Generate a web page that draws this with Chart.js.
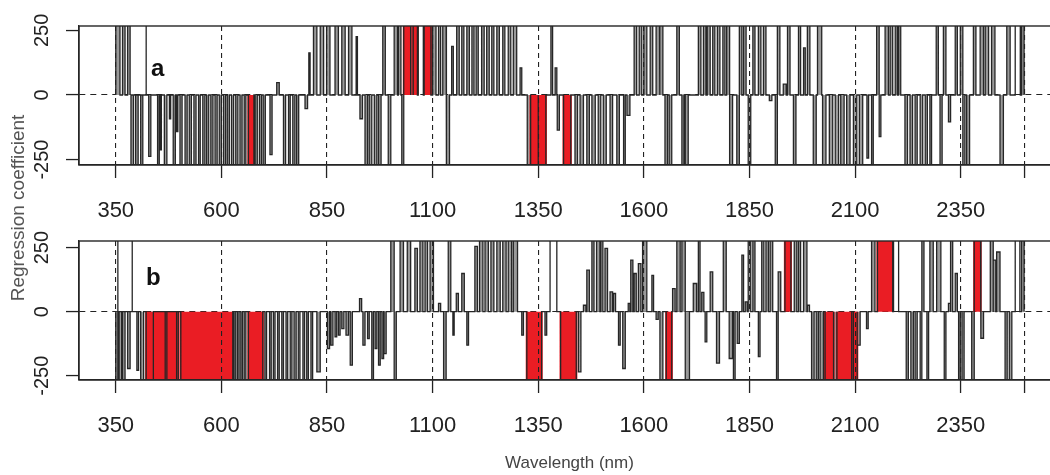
<!DOCTYPE html>
<html>
<head>
<meta charset="utf-8">
<script src="https://cdn.jsdelivr.net/npm/chart.js@4.4.1/dist/chart.umd.min.js"></script>
<style>
  html, body { margin: 0; padding: 0; background: #fff; overflow: hidden; }
  body { width: 1050px; height: 475px; position: relative; }
  canvas { position: absolute; left: 0; }
  #chartA { top: 0; }
  #chartB { top: 214px; }
  .panel { position: absolute; font: bold 24px "Liberation Sans", Arial, sans-serif; line-height: 24px; color: #111; }
  #ytitle { position: absolute; left: -131px; top: 196px; width: 300px; height: 24px; line-height: 24px;
            text-align: center; transform: rotate(-90deg); color: #555;
            font: 19px "Liberation Sans", Arial, sans-serif; }
</style>
</head>
<body>
<canvas id="chartA" width="1065" height="230"></canvas>
<canvas id="chartB" width="1065" height="261"></canvas>
<div class="panel" style="left:151px;top:56px">a</div>
<div class="panel" style="left:146px;top:265px">b</div>
<div id="ytitle">Regression coefficient</div>
<script>
// tick positions (nm) and labels
const xTickVals = [350, 600, 850, 1100, 1350, 1600, 1850, 2100, 2350, 2500];
const xTickLabels = ["350", "600", "850", "1100", "1350", "1600", "1850", "2100", "2350", ""];
const yTickVals = [-250, 0, 250];
const yTickLabels = ["-250", "0", "250"];
const xTitle = "Wavelength (nm)";

// panel a: coefficient bars [from nm, to nm, coefficient]; +-300 = off the scale
const barsA = [
  [350, 360, 300], [366, 372, 300], [378, 384, 300], [384, 422, 300],
  [386, 392, -300], [397, 403, -300], [409, 414, -300], [428, 433, -238], [449, 453, -300], [455, 458, -212],
  [465, 471, -300], [477, 480, -92], [486, 491, -300], [494, 497, -142], [502, 507, -300], [514, 519, -300],
  [524, 529, -300], [535, 540, -300], [546, 550, -300], [556, 561, -300], [565, 570, -300], [575, 580, -300],
  [585, 590, -300], [595, 600, -300], [605, 610, -300], [614, 619, -300], [624, 629, -300], [634, 639, -300],
  [644, 649, -300], [654, 658, -300], [680, 685, -300], [690, 695, -300], [699, 704, -300], [715, 720, -231],
  [731, 737, 48], [747, 752, -300], [759, 763, -300], [769, 774, -300], [778, 783, -300], [798, 804, -53],
  [807, 810, 163], [818, 826, 300], [834, 842, 300], [849, 857, 300], [869, 877, 300], [885, 893, 300],
  [901, 909, 300], [919, 922, 226], [928, 934, -92], [940, 946, -300], [950, 956, -300], [962, 968, -300],
  [972, 978, -300], [982, 988, 300], [995, 1001, -300], [1009, 1017, 300], [1019, 1025, 300], [1027, 1031, -300],
  [1048, 1054, 300], [1066, 1078, 300], [1100, 1108, 300], [1114, 1119, 300], [1124, 1132, 300], [1133, 1140, -300],
  [1145, 1149, 188], [1157, 1163, 300], [1169, 1174, 300], [1181, 1187, 300], [1193, 1198, 300], [1203, 1208, 300],
  [1216, 1222, 300], [1228, 1234, 300], [1240, 1245, 300], [1252, 1258, 300], [1266, 1271, 300], [1279, 1285, 300],
  [1291, 1299, 300], [1307, 1311, 105], [1324, 1332, -300], [1380, 1384, 300], [1390, 1394, 105], [1395, 1400, -136],
  [1437, 1443, -300], [1449, 1457, -300], [1465, 1471, -300], [1477, 1485, -300], [1492, 1498, -300], [1504, 1511, -300],
  [1520, 1526, -300], [1536, 1542, -300], [1552, 1556, -300], [1560, 1567, -79], [1577, 1583, 300], [1589, 1595, 300],
  [1600, 1607, 300], [1615, 1621, 300], [1629, 1637, 300], [1638, 1645, 300], [1650, 1656, -300], [1660, 1666, -300],
  [1678, 1684, 300], [1690, 1695, -300], [1698, 1705, -300], [1729, 1735, 300], [1741, 1747, 300], [1750, 1757, 300],
  [1763, 1768, 300], [1774, 1780, 300], [1787, 1792, 300], [1796, 1803, 300], [1803, 1810, -300], [1820, 1826, -300],
  [1826, 1832, 300], [1836, 1842, 300], [1847, 1853, -300], [1858, 1863, 300], [1871, 1877, 300], [1883, 1889, 300],
  [1897, 1903, -22], [1911, 1916, -300], [1916, 1922, 300], [1930, 1937, 42], [1940, 1946, 300], [1954, 1960, -300],
  [1966, 1971, 300], [1978, 1982, 182], [1987, 1993, 300], [2001, 2008, -300], [2011, 2021, 300], [2023, 2031, -300],
  [2039, 2047, -300], [2053, 2061, -300], [2066, 2074, -300], [2080, 2088, -300], [2096, 2104, -300], [2110, 2118, -300],
  [2128, 2132, -244], [2139, 2143, -300], [2151, 2157, 300], [2157, 2161, -161], [2171, 2179, 300], [2183, 2189, 300],
  [2195, 2200, 300], [2203, 2208, 300], [2218, 2224, -300], [2230, 2236, -300], [2242, 2247, -300], [2254, 2260, -300],
  [2266, 2271, -300], [2277, 2281, -300], [2292, 2297, 300], [2301, 2306, -300], [2309, 2315, 300], [2321, 2326, -104],
  [2337, 2342, 300], [2349, 2355, 300], [2355, 2360, -300], [2364, 2371, -300], [2380, 2386, 300], [2396, 2404, 300],
  [2408, 2416, 300], [2423, 2431, 300], [2443, 2451, -300], [2459, 2467, 300], [2479, 2491, 300], [2494, 2500, 300]
];
// panel a: selected (red) wavelengths
const redA = [
  [664, 677, -300], [1032, 1048, 300], [1054, 1064, 300], [1080, 1096, 300],
  [1332, 1350, -300], [1350, 1368, -300], [1410, 1427, -300]
];

// panel b
const barsB = [
  [350, 355, -300], [355, 389, 300], [358, 364, -300], [366, 372, -300], [378, 384, -222], [400, 404, -229],
  [409, 416, -300], [439, 467, -300], [471, 494, -300], [630, 634, -300], [638, 642, -300], [646, 650, -300],
  [654, 658, -300], [703, 707, -300], [714, 718, -300], [723, 727, -300], [733, 737, -300], [743, 747, -300],
  [753, 757, -300], [763, 767, -300], [772, 777, -300], [782, 786, -300], [793, 797, -300], [802, 806, -300],
  [812, 816, -300], [826, 834, -235], [851, 856, -144], [859, 864, -131], [869, 873, -98], [877, 881, -92],
  [885, 890, -66], [895, 901, -92], [905, 910, -209], [927, 932, 51], [935, 940, -131], [946, 950, -105],
  [956, 960, -300], [964, 968, -144], [972, 976, -209], [980, 984, -183], [985, 990, -164], [1001, 1009, 300],
  [1009, 1014, -300], [1023, 1031, 300], [1040, 1048, 300], [1058, 1064, 247], [1070, 1077, 300], [1082, 1088, 300],
  [1094, 1102, 300], [1114, 1119, 32], [1126, 1132, -300], [1137, 1143, 300], [1148, 1151, -92], [1156, 1161, 71],
  [1169, 1175, 149], [1181, 1185, -131], [1200, 1206, 255], [1211, 1219, 300], [1224, 1232, 300], [1238, 1245, 300],
  [1252, 1260, 300], [1266, 1274, 300], [1279, 1287, 300], [1291, 1301, 300], [1311, 1315, -92], [1366, 1370, -92],
  [1378, 1394, 300], [1445, 1451, -235], [1457, 1463, 25], [1465, 1471, 162], [1477, 1482, 300], [1488, 1496, 300],
  [1498, 1503, 300], [1508, 1514, 247], [1520, 1526, 77], [1528, 1533, 71], [1540, 1544, -131], [1550, 1556, -222],
  [1563, 1567, 32], [1569, 1574, 201], [1577, 1582, 149], [1587, 1593, 188], [1597, 1607, 300], [1619, 1623, 142],
  [1629, 1634, -30], [1638, 1645, -300], [1668, 1674, 90], [1678, 1686, 300], [1690, 1698, 300], [1698, 1708, -300],
  [1717, 1725, 110], [1729, 1733, 300], [1737, 1742, 75], [1745, 1749, -118], [1757, 1763, 155], [1772, 1779, -201],
  [1788, 1795, 300], [1802, 1810, -183], [1812, 1816, -300], [1821, 1826, -124], [1832, 1836, 221], [1840, 1845, 38],
  [1847, 1853, 300], [1858, 1863, 300], [1871, 1875, -176], [1879, 1884, 300], [1889, 1895, 300], [1899, 1905, 300],
  [1914, 1918, -300], [1918, 1924, 155], [1956, 1962, 300], [1966, 1971, 300], [1978, 1986, 300], [1987, 1992, 25],
  [1997, 2003, -300], [2008, 2013, -300], [2017, 2025, -300], [2049, 2057, -300], [2105, 2112, -131], [2127, 2131, -66],
  [2139, 2147, 300], [2191, 2203, 300], [2221, 2226, -300], [2232, 2238, -300], [2242, 2247, -300], [2254, 2258, -300],
  [2258, 2263, 300], [2270, 2274, -300], [2277, 2285, 300], [2293, 2303, 300], [2311, 2315, -300], [2321, 2326, 32],
  [2326, 2331, 300], [2337, 2342, 149], [2345, 2349, -300], [2353, 2358, -300], [2376, 2382, -300], [2398, 2404, -104],
  [2420, 2427, 300], [2427, 2433, 201], [2435, 2443, 233], [2455, 2460, -300], [2465, 2471, -300], [2479, 2490, 300],
  [2494, 2500, 300]
];
const redB = [
  [422, 498, -300], [504, 627, -300], [664, 698, -300], [1323, 1358, -300], [1403, 1440, -300], [1653, 1666, -300],
  [1934, 1948, 300], [2029, 2049, -300], [2057, 2092, -300], [2096, 2105, -300], [2153, 2189, 300], [2382, 2397, 300]
];

const lineCol = "#262626";
const redCol = "#ea1d24";
const narrowFill = "#9a9a9a";
const tickFont = { family: '"Liberation Sans", Arial, sans-serif', size: 22 };

// each bar -> outline going up from 0 and back down to 0
function toPoints(runs, gaps) {
  const pts = [];
  runs.slice().sort((p, q) => p[0] - q[0]).forEach(([s, e, v]) => {
    pts.push({ x: s, y: 0 }, { x: s, y: v }, { x: e, y: v }, { x: e, y: 0 });
    if (gaps) pts.push({ x: e, y: null });
  });
  return pts;
}

// R style box + rotated y labels
const boxPlugin = {
  id: "rBox",
  afterDraw(chart) {
    const { ctx, chartArea: a } = chart;
    const y = chart.scales.y;
    ctx.save();
    ctx.strokeStyle = lineCol;
    ctx.lineWidth = 1.4;
    ctx.strokeRect(a.left, a.top, a.right - a.left, a.bottom - a.top);
    ctx.fillStyle = "#222";
    ctx.font = '20px "Liberation Sans", Arial, sans-serif';
    ctx.textAlign = "center";
    ctx.textBaseline = "middle";
    yTickVals.forEach((v, i) => {
      ctx.save();
      ctx.translate(a.left - 37, y.getPixelForValue(v));
      ctx.rotate(-Math.PI / 2);
      ctx.fillText(yTickLabels[i], 0, 0);
      ctx.restore();
    });
    ctx.restore();
  }
};

function makePanel(id, bars, reds, yMin, yMax, padTop, axisH, showTitle) {
  const narrow = bars.filter(([s, e]) => e - s <= 10);
  return new Chart(document.getElementById(id), {
    type: "line",
    data: {
      datasets: [
        { data: toPoints(bars.concat(reds), false), borderColor: lineCol, borderWidth: 1.3, pointRadius: 0,
          fill: false, tension: 0, order: 0 },
        { data: toPoints(reds, true), borderColor: redCol, backgroundColor: redCol, borderWidth: 2.2, pointRadius: 0,
          fill: "origin", spanGaps: false, tension: 0, order: 1 },
        { data: toPoints(narrow, true), borderColor: "rgba(0,0,0,0)", backgroundColor: narrowFill, borderWidth: 0,
          pointRadius: 0, fill: "origin", spanGaps: false, tension: 0, order: 2 }
      ]
    },
    options: {
      responsive: false,
      animation: false,
      devicePixelRatio: 1,
      layout: { padding: { top: padTop, right: 5, left: 0, bottom: 0 } },
      plugins: { legend: { display: false }, tooltip: { enabled: false } },
      scales: {
        x: {
          type: "linear",
          min: 263,
          max: 2585,
          afterBuildTicks: (ax) => { ax.ticks = xTickVals.map((v) => ({ value: v })); },
          afterFit: (ax) => { ax.height = axisH; },
          grid: { color: "#222", lineWidth: 1.1, tickLength: 13, tickColor: "#222", tickWidth: 1.3, z: 1 },
          border: { color: lineCol, width: 1.3, dash: [5, 4], z: 1 },
          ticks: { padding: 20, color: "#222", font: tickFont, maxRotation: 0, autoSkip: false,
                   callback: (v, i) => xTickLabels[i] },
          title: { display: showTitle, text: xTitle, color: "#444",
                   font: { family: '"Liberation Sans", Arial, sans-serif', size: 17 },
                   padding: { top: 0, bottom: 1 } }
        },
        y: {
          min: yMin,
          max: yMax,
          afterBuildTicks: (ax) => { ax.ticks = yTickVals.map((v) => ({ value: v })); },
          afterFit: (ax) => { ax.width = 79; },
          grid: { color: (c) => (c.tick && c.tick.value === 0 ? "#222" : "rgba(0,0,0,0)"),
                  tickColor: "#222", tickLength: 13, lineWidth: 1.1, tickWidth: 1.3 },
          border: { color: lineCol, width: 1.3, dash: [6, 5] },
          ticks: { display: false }
        }
      }
    },
    plugins: [boxPlugin]
  });
}

makePanel("chartA", barsA, redA, -271, 267, 26, 65, false);
makePanel("chartB", barsB, redB, -267, 276, 27, 95, true);
</script>
</body>
</html>
